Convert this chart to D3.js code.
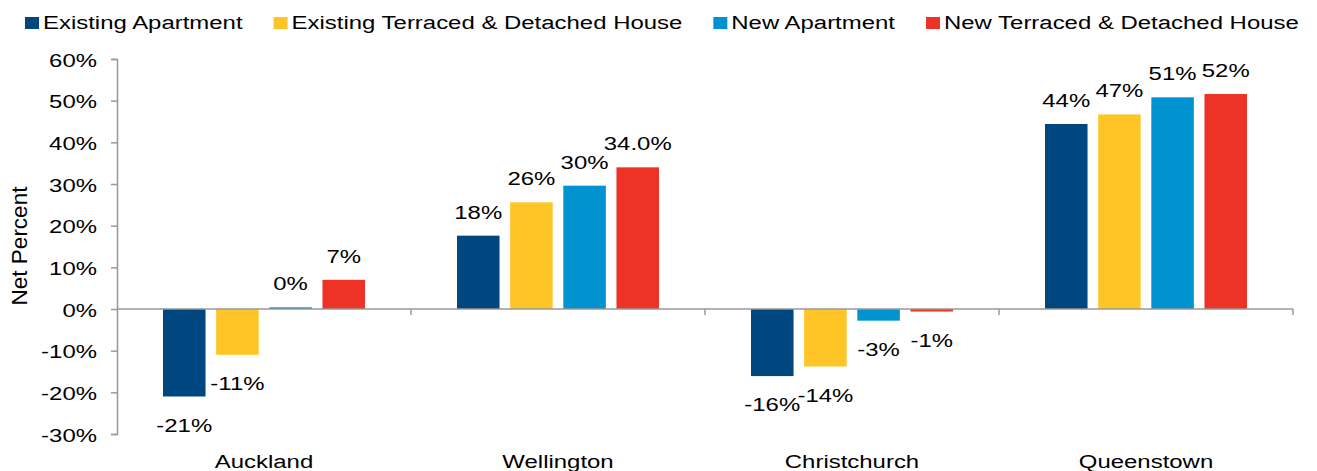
<!DOCTYPE html>
<meta charset="utf-8">
<script src="https://d3js.org/d3.v7.min.js"></script>
<style>
  body { margin: 0; background: #fff; }
  text { font-family: "Liberation Sans", Arial, sans-serif; fill: #000; }
</style>
<div id="chart"></div>
<script>
// data
var cities = ["Auckland", "Wellington", "Christchurch", "Queenstown"];
var seriesNames = ["Existing Apartment", "Existing Terraced & Detached House", "New Apartment", "New Terraced & Detached House"];
var seriesColors = ["#00477f", "#ffc527", "#0093d0", "#ee3226"];
var existingApt   = [-21.0, 17.6, -16.1, 44.4];
var existingHouse = [-11.0, 25.6, -13.8, 46.7];
var newApt        = [0.4, 29.6, -2.8, 50.8];
var newHouse      = [7.0, 34.0, -0.6, 51.6];
var existingAptLbl   = ["-21%", "18%", "-16%", "44%"];
var existingHouseLbl = ["-11%", "26%", "-14%", "47%"];
var newAptLbl        = ["0%", "30%", "-3%", "51%"];
var newHouseLbl      = ["7%", "34.0%", "-1%", "52%"];
var yTicks = [-30, -20, -10, 0, 10, 20, 30, 40, 50, 60];

var values = [existingApt, existingHouse, newApt, newHouse];
var labels = [existingAptLbl, existingHouseLbl, newAptLbl, newHouseLbl];

var W = 1317, H = 471;
var SX = 1.26;      // text in the picture is stretched sideways
var FS = 19;

var svg = d3.select("#chart").append("svg")
  .attr("width", W).attr("height", H);

var x0 = d3.scaleBand().domain(cities).range([117, 1293]);
var x1 = d3.scaleBand().domain(d3.range(4)).range([46, 248]).paddingInner(0.2);
var y = d3.scaleLinear().domain([-30, 60]).range([434, 59]);

// bars
var rows = [];
cities.forEach(function(c, ci) {
  values.forEach(function(s, si) {
    rows.push({city: c, s: si, v: s[ci], lbl: labels[si][ci]});
  });
});

svg.append("g").selectAll("rect").data(rows).enter().append("rect")
  .attr("x", function(d) { return x0(d.city) + x1(d.s); })
  .attr("y", function(d) { return y(Math.max(0, d.v)); })
  .attr("width", x1.bandwidth())
  .attr("height", function(d) { return Math.abs(y(d.v) - y(0)); })
  .attr("fill", function(d) { return seriesColors[d.s]; });

// value labels
svg.append("g").selectAll("text").data(rows).enter().append("text")
  .attr("text-anchor", "middle")
  .attr("font-size", FS)
  .attr("transform", function(d) {
    var cx = x0(d.city) + x1(d.s) + x1.bandwidth() / 2;
    var by = d.v >= 0 ? y(d.v) - 17 : y(d.v) + 35;
    return "translate(" + cx + "," + by + ") scale(" + SX + ",1)";
  })
  .text(function(d) { return d.lbl; });

// y axis
var axisColor = "#999";
var yAxis = svg.append("g").attr("transform", "translate(117,0)")
  .call(d3.axisLeft(y).tickValues(yTicks).tickSize(6).tickFormat(function(d) { return d + "%"; }));
yAxis.select(".domain").attr("stroke", axisColor).attr("stroke-width", 1.5);
yAxis.selectAll(".tick line").attr("stroke", axisColor).attr("stroke-width", 1.5);
yAxis.selectAll(".tick text")
  .attr("font-size", FS)
  .attr("font-family", "Liberation Sans, Arial, sans-serif")
  .attr("fill", "#000")
  .attr("x", null).attr("dy", null)
  .attr("text-anchor", "end")
  .attr("transform", "translate(-20,7) scale(" + SX + ",1)");

// x axis on the zero line
var xAxis = svg.append("g").attr("transform", "translate(0," + y(0) + ")");
xAxis.append("line").attr("x1", 117).attr("x2", 1293)
  .attr("stroke", axisColor).attr("stroke-width", 1.5);
xAxis.selectAll(".tk").data(cities).enter().append("line")
  .attr("class", "tk")
  .attr("x1", function(d) { return x0(d) + x0.bandwidth(); })
  .attr("x2", function(d) { return x0(d) + x0.bandwidth(); })
  .attr("y1", 0).attr("y2", 6)
  .attr("stroke", axisColor).attr("stroke-width", 1.5);

// category labels along the bottom
svg.append("g").selectAll("text").data(cities).enter().append("text")
  .attr("text-anchor", "middle")
  .attr("font-size", FS)
  .attr("transform", function(d) {
    return "translate(" + (x0(d) + x0.bandwidth() / 2) + ",468) scale(" + SX + ",1)";
  })
  .text(function(d) { return d; });

// y title
svg.append("text")
  .attr("text-anchor", "middle")
  .attr("font-size", 22.5)
  .attr("transform", "translate(27,246) rotate(-90)")
  .text("Net Percent");

// legend
var lg = svg.append("g");
var lx = 25;
seriesNames.forEach(function(n, i) {
  lg.append("rect").attr("x", lx).attr("y", 17).attr("width", 14).attr("height", 12)
    .attr("fill", seriesColors[i]);
  var t = lg.append("text")
    .attr("font-size", FS)
    .attr("transform", "translate(" + (lx + 18) + ",29) scale(" + SX + ",1)")
    .text(n);
  var w = t.node().getComputedTextLength() * SX;
  lx = lx + 18 + w + 31;
});
</script>
